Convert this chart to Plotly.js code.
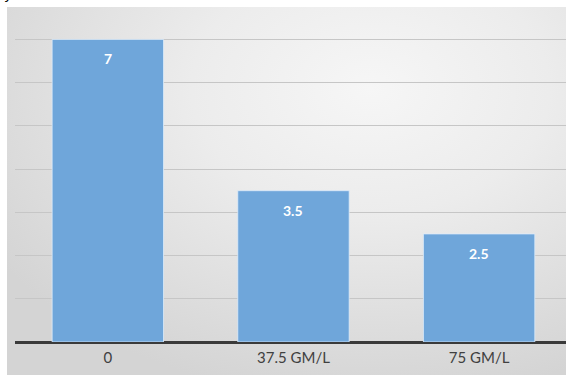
<!DOCTYPE html>
<html>
<head>
<meta charset="utf-8">
<script src="https://cdn.plot.ly/plotly-3.0.1.min.js"></script>
<style>
  html, body { margin: 0; padding: 0; background: #ffffff; }
  #wrap { position: relative; width: 566px; height: 375px; overflow: hidden; }
  #bg {
    position: absolute; left: 7px; top: 7px; width: 559px; height: 368px;
    background: radial-gradient(ellipse 80% 85% at 65% 22%, #f6f6f6 0%, #ececec 40%, #dcdcdc 80%, #d4d4d4 100%);
  }
  #chart { position: absolute; left: 0; top: 0; width: 566px; height: 375px; }
</style>
</head>
<body>
<div id="wrap">
  <div id="bg"></div>
  <div id="chart"></div>
</div>
<script>
// Concentration groups and their measured values
const categories = ['0', '37.5 GM/L', '75 GM/L'];
const values = [7, 3.5, 2.5];
const valueLabels = ['7', '3.5', '2.5'];

const barColor = '#6fa6da';

const trace = {
  type: 'bar',
  x: categories,
  y: values,
  marker: { color: barColor, line: { color: 'rgba(220,235,250,0.8)', width: 1 } },
  hoverinfo: 'none'
};

const annotations = categories.map((c, i) => ({
  x: c, y: values[i], xref: 'x', yref: 'y',
  text: '<b>' + valueLabels[i] + '</b>',
  showarrow: false, yanchor: 'top', yshift: -9,
  font: { family: 'Lato, "Open Sans", sans-serif', size: 14, color: '#ffffff' }
}));

// small clipped glyph at the top-left corner
annotations.push({
  x: 0, y: 1, xref: 'paper', yref: 'paper', xanchor: 'left', yanchor: 'bottom',
  text: 'y', showarrow: false, xshift: -13, yshift: 3,
  font: { family: 'DejaVu Sans', size: 14, color: '#000000' }
});

const layout = {
  width: 566, height: 375,
  margin: { l: 15, r: 0, t: 7, b: 33 },
  paper_bgcolor: 'rgba(0,0,0,0)',
  plot_bgcolor: 'rgba(0,0,0,0)',
  bargap: 0.4,
  showlegend: false,
  xaxis: {
    type: 'category',
    range: [-0.5, 2.468],
    showgrid: false, zeroline: false, showline: false,
    ticks: '',
    ticklabelstandoff: 5,
    tickfont: { family: 'Lato, "Open Sans", sans-serif', size: 15, color: '#404040' },
    fixedrange: true
  },
  yaxis: {
    range: [0, 7.75],
    dtick: 1,
    showticklabels: false,
    showgrid: true, gridcolor: '#c6c6c6', gridwidth: 1,
    zeroline: true, zerolinecolor: '#3a3a3a', zerolinewidth: 3,
    fixedrange: true
  },
  annotations: annotations
};

Plotly.newPlot('chart', [trace], layout, { displayModeBar: false, staticPlot: true });
</script>
</body>
</html>
